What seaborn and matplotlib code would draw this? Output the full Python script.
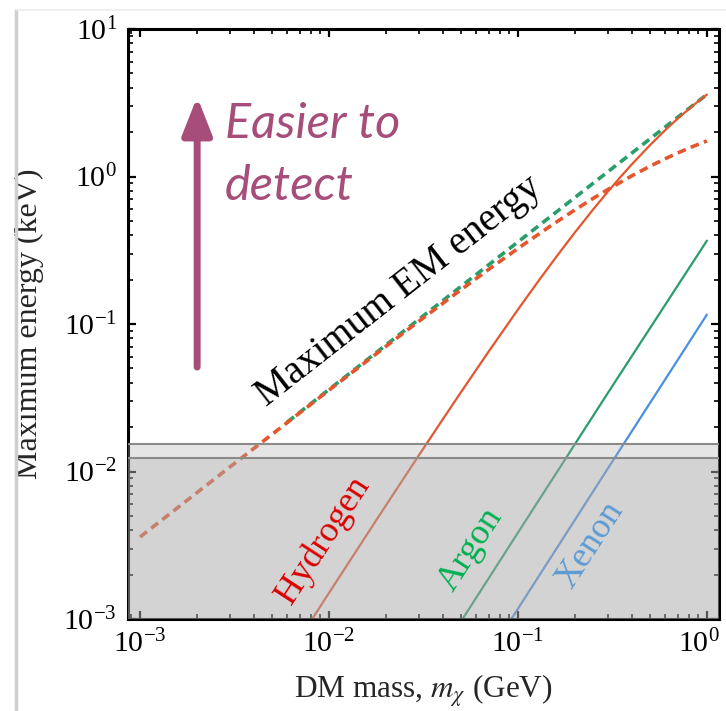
import numpy as np
import pandas as pd
import matplotlib
matplotlib.use("Agg")
import matplotlib.pyplot as plt
import matplotlib.transforms as mtransforms
from matplotlib.lines import Line2D
import seaborn as sns

# DM mass (GeV) and maximum energies (keV) for each curve
h_mass = [0.008, 0.01, 0.015, 0.02, 0.03, 0.04, 0.05, 0.07, 0.1, 0.13, 0.16,
          0.2, 0.25, 0.3, 0.35, 0.4, 0.5, 0.6, 0.7, 0.85, 1.0]
h_recoil = [9.66e-4, 1.503e-3, 3.346e-3, 5.886e-3, 0.01297, 0.02259, 0.0346,
            0.06513, 0.1254, 0.2001, 0.2868, 0.4172, 0.5981, 0.7931, 0.9973,
            1.207, 1.633, 2.055, 2.467, 3.052, 3.596]

ar_mass = [0.05, 0.1, 0.3, 1.0]
ar_recoil = [9.65e-4, 3.85e-3, 0.03429, 0.3671]

xe_mass = [0.09, 0.3, 1.0]
xe_recoil = [9.52e-4, 0.010545, 0.11584]

em_h_mass = [0.001, 0.003, 0.01, 0.02, 0.03, 0.05, 0.07, 0.1, 0.15, 0.2, 0.25,
             0.3, 0.4, 0.5, 0.6, 0.7, 0.85, 1.0]
em_h_energy = [0.0036, 0.01077, 0.0356, 0.0705, 0.1047, 0.1709, 0.2345, 0.3253,
               0.4656, 0.5935, 0.7106, 0.8183, 1.0095, 1.1743, 1.3173, 1.4432,
               1.6053, 1.7424]

em_heavy_mass = [0.006, 0.1, 1.0]
em_heavy_energy = [0.0216, 0.36, 3.6]

threshold_low = 0.01225
threshold_high = 0.0153

c_h = "#e4572e"
c_ar = "#2a9d6a"
c_xe = "#4a90e2"
c_note = "#a64d79"

sns.set_theme(style="ticks")
plt.rcParams["font.family"] = ["Liberation Serif", "DejaVu Serif"]
plt.rcParams["mathtext.fontset"] = "stix"

fig = plt.figure(figsize=(7.26, 7.11), dpi=100)
fig.patch.set_facecolor("white")
ax = fig.add_axes([128 / 726, 1 - 619 / 711, 591 / 726, 590 / 711])
ax.set_xscale("log")
ax.set_yscale("log")
ax.set_xlim(10 ** -3.064, 10 ** 0.064)
ax.set_ylim(1e-3, 10)

dash = (0, (2.4, 1.5))
sns.lineplot(x=em_heavy_mass, y=em_heavy_energy, ax=ax, color=c_ar, lw=2.6,
             linestyle=dash, estimator=None, sort=False, zorder=2)
sns.lineplot(x=em_h_mass, y=em_h_energy, ax=ax, color=c_h, lw=2.6,
             linestyle=dash, estimator=None, sort=False, zorder=2.1)
sns.lineplot(x=h_mass, y=h_recoil, ax=ax, color=c_h, lw=1.6,
             estimator=None, sort=False, zorder=2.2)
sns.lineplot(x=ar_mass, y=ar_recoil, ax=ax, color=c_ar, lw=1.6,
             estimator=None, sort=False, zorder=2.2)
sns.lineplot(x=xe_mass, y=xe_recoil, ax=ax, color=c_xe, lw=1.6,
             estimator=None, sort=False, zorder=2.2)

# shaded sub-threshold region (two overlapping translucent layers)
ax.axhspan(1e-3, threshold_high, color="#aaaaaa", alpha=0.3, lw=0, zorder=3)
ax.axhspan(1e-3, threshold_low, color="#aaaaaa", alpha=0.3, lw=0, zorder=3)
for thr in (threshold_low, threshold_high):
    ax.axhline(thr, color="#8a8a8a", lw=1.5, zorder=3.5)

# labels along the curves
ax.text(0.331, 0.134, "Hydrogen", transform=ax.transAxes, rotation=57,
        rotation_mode="anchor", ha="center", va="center", fontsize=26,
        color="#dd0000", zorder=5)
ax.text(0.580, 0.117, "Argon", transform=ax.transAxes, rotation=57,
        rotation_mode="anchor", ha="center", va="center", fontsize=26,
        color="#00b050", zorder=5)
ax.text(0.782, 0.125, "Xenon", transform=ax.transAxes, rotation=57,
        rotation_mode="anchor", ha="center", va="center", fontsize=26,
        color="#5b9bd5", zorder=5)
ax.text(0.458, 0.556, "Maximum EM energy", transform=ax.transAxes, rotation=38,
        rotation_mode="anchor", ha="center", va="center", fontsize=28.5,
        color="black", zorder=5)

# detectability arrow and note
ax.annotate("", xy=(0.117, 0.885), xytext=(0.117, 0.427),
            xycoords="axes fraction", textcoords="axes fraction",
            arrowprops=dict(arrowstyle="-|>,head_length=1.9,head_width=0.75",
                            color=c_note, lw=5, shrinkA=0, shrinkB=0),
            zorder=5)
ax.text(0.164, 0.815, "Easier to", transform=ax.transAxes, ha="left",
        va="baseline", fontsize=35, style="italic", color=c_note,
        family=["Lato", "DejaVu Sans"], zorder=5)
ax.text(0.164, 0.710, "detect", transform=ax.transAxes, ha="left",
        va="baseline", fontsize=35, style="italic", color=c_note,
        family=["Lato", "DejaVu Sans"], zorder=5)

# axes styling
for sp in ax.spines.values():
    sp.set_linewidth(2.2)
    sp.set_color("black")
    sp.set_visible(True)
ax.tick_params(which="both", direction="in", top=True, right=True,
               colors="black")
ax.tick_params(which="major", length=6, width=1.6, labelsize=21.5, pad=8)
ax.tick_params(which="minor", length=3.5, width=1.2)
ax.xaxis.set_major_locator(matplotlib.ticker.LogLocator(base=10, numticks=10))
ax.yaxis.set_major_locator(matplotlib.ticker.LogLocator(base=10, numticks=10))
ax.xaxis.set_minor_locator(matplotlib.ticker.LogLocator(base=10, subs=np.arange(2, 10), numticks=20))
ax.yaxis.set_minor_locator(matplotlib.ticker.LogLocator(base=10, subs=np.arange(2, 10), numticks=20))
ax.set_xlabel(r"DM mass, $m_\chi$ (GeV)", fontsize=22.5, labelpad=10)
ax.set_ylabel("Maximum energy (keV)", fontsize=23, labelpad=14)
ax.grid(False)

# keep the rightmost x tick label inside the canvas
fig.canvas.draw()
shift = mtransforms.ScaledTranslation(-8 / 100, 0, fig.dpi_scale_trans)
for tick in ax.xaxis.get_major_ticks():
    if np.isclose(tick.get_loc(), 1.0):
        tick.label1.set_transform(tick.label1.get_transform() + shift)

# card edge
fig.add_artist(Line2D([16 / 726, 16 / 726], [0, 1 - 10 / 711], transform=fig.transFigure,
                      color="#cfcfcf", lw=2.5))
fig.add_artist(Line2D([16 / 726, 1], [1 - 10 / 711, 1 - 10 / 711], transform=fig.transFigure,
                      color="#ececec", lw=1.2))

fig.savefig("out.png", dpi=100, facecolor="white")
